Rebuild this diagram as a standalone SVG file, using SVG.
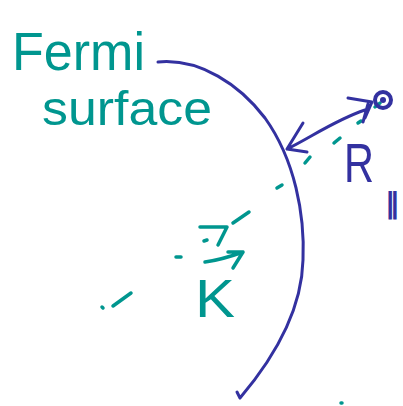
<svg xmlns="http://www.w3.org/2000/svg" width="403" height="406" viewBox="0 0 403 406">
<style>
.t{fill:#00968f;font-family:"Liberation Sans",Arial,sans-serif}
.b{fill:#3331a0;font-family:"Liberation Sans",Arial,sans-serif}
.ts{stroke:#00968f;stroke-width:3.5;stroke-linecap:round;stroke-linejoin:round;fill:none}
.bs{stroke:#3331a0;stroke-width:3;stroke-linecap:round;stroke-linejoin:round;fill:none}
</style>
<rect width="403" height="406" fill="#fff"/>
<g id="label-fermi-surface">
<text class="t" x="12" y="70" font-size="54" textLength="133" lengthAdjust="spacingAndGlyphs">Fermi</text>
<text class="t" x="42" y="125" font-size="49" textLength="170" lengthAdjust="spacingAndGlyphs">surface</text>
</g>
<g id="fermi-surface-curve">
<path class="bs" d="M158,62 C200,58 240,85 265,118 C295,160 305,215 303,260 C302,300 285,345 240,398 M240,398 L237,392"/>
</g>
<g id="teal-dashes">
<path class="ts" d="M102,307 L103,308 M113,306 L131,293 M176,257 L181,257 M233,223 L249,212 M277,188 L282,185 M305,163 L310,157 M334,143 L340,138 M358,123 L361,121 M375,107 L380,103 M341,403 L342,403"/>
</g>
<g id="k-vector">
<path class="ts" d="M200,227 L227,227 L218,245 M204,241 L207,240 M205,262 C220,260 232,256 243,252 M228,252 L243,252 L233,268"/>
<text class="t" x="195" y="317" font-size="54" textLength="40" lengthAdjust="spacingAndGlyphs">K</text>
</g>
<g id="r-parallel-arrow">
<circle cx="383" cy="100" r="8" fill="none" stroke="#3331a0" stroke-width="4"/>
<circle cx="383" cy="100" r="3" fill="#3331a0"/>
<path class="bs" d="M348,98 L372,102 M372,102 L365,118 M368,104 L363,122 M287,149 C310,138 335,120 365,110 M303,123 L287,149 L307,152"/>
<text class="b" x="344" y="182" font-size="56" textLength="30" lengthAdjust="spacingAndGlyphs">R</text>
<text class="b" x="385" y="213" font-size="28" font-weight="bold" textLength="15" lengthAdjust="spacingAndGlyphs">∥</text>
</g>
</svg>
